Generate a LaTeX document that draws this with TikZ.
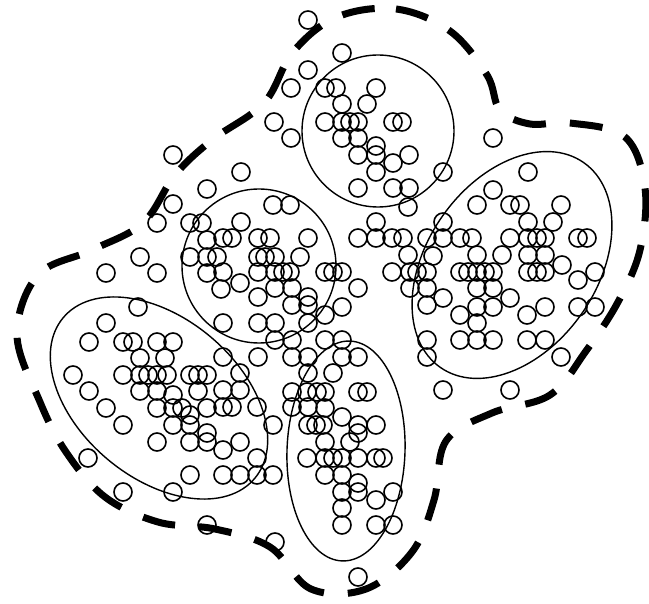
\documentclass[tikz,border=0pt]{standalone}
\begin{document}
\begin{tikzpicture}[x=1pt,y=-1pt,
  dot/.style={line width=1.6pt},
  blob/.style={line width=1.4pt},
  hull/.style={line width=7pt,dash pattern=on 33pt off 24pt}]
\useasboundingbox (0,0) rectangle (649,604);
% dashed outline
\draw[hull] plot[smooth cycle,tension=0.6] coordinates {
(337,17) (396,9) (450,31) (487,75) (500,110) (530,124) (570,123) (625,137) (645,188) (640,250) (618,302) (586,351) (550,395) (492,413) (446,441) (434,500) (412,552) (366,589) (311,589) (270,547) (215,529) (158,522) (105,497) (66,452) (40,402) (17,335) (38,275) (92,250) (143,223) (175,175) (212,140) (264,103) (293,52)};
% clusters
\draw[blob] (378,131) circle[radius=76pt];
\draw[blob] (259,266) circle[radius=77pt];
\draw[blob] (512,265) ellipse[x radius=125pt,y radius=85pt,rotate=55];
\draw[blob] (159,398) ellipse[x radius=125pt,y radius=80pt,rotate=-40];
\draw[blob] (346,451) ellipse[x radius=110pt,y radius=59pt,rotate=88];
% points
\foreach \x/\y in {
308/20,342/53,308/70,291/88,325/88,336/88,376/88,342/104,367/104,274/122,325/122,342/122,350/122,358/122,393/122,402/122,
291/138,342/138,358/138,376/146,358/155,376/155,409/155,393/163,376/172,241/172,358/188,393/188,409/188,443/172,493/138,528/172,493/190,
173/155,207/189,173/204,408/207,
157/223,190/223,202/223,207/240,223/238,232/238,140/257,190/257,207/257,217/257,106/273,157/273,207/273,221/289,138/307,106/323,
89/342,123/342,133/342,157/342,173/342,140/358,165/358,73/375,123/375,140/375,148/375,157/375,167/375,190/375,198/375,207/375,
89/391,140/391,157/391,173/395,198/391,106/408,157/408,173/408,182/408,190/415,207/408,223/407,232/407,123/425,173/425,190/425,
207/433,157/442,190/442,207/442,223/450,88/458,190/475,223/475,123/492,173/492,207/525,
273/205,290/205,241/222,376/222,258/238,270/238,308/238,358/238,376/238,392/238,403/238,427/238,258/257,265/257,275/257,300/257,
408/255,433/256,223/272,258/272,275/272,283/272,290/272,325/272,333/272,342/272,392/272,410/272,417/272,427/272,240/283,258/297,
275/288,292/288,308/297,358/288,410/288,427/288,292/305,308/305,325/315,342/307,427/305,223/323,258/323,275/323,308/323,275/340,
292/340,325/340,342/340,427/340,223/357,258/357,292/357,308/357,342/357,358/357,427/357,240/373,308/373,333/373,223/390,240/390,
292/392,307/392,317/392,325/392,358/392,367/392,443/390,
477/205,510/205,520/205,561/205,443/222,528/222,553/222,443/238,460/238,472/238,510/238,528/238,537/238,545/238,578/238,587/238,
477/255,502/255,528/255,545/255,562/265,460/272,468/272,477/272,485/272,493/272,528/272,537/272,545/272,578/280,595/272,477/288,
493/288,443/298,477/307,493/307,510/298,460/315,527/315,545/307,578/307,595/307,477/323,460/340,477/340,493/340,527/340,545/340,
561/357,510/390,
257/407,292/407,308/407,325/408,273/425,308/425,316/425,323/425,342/417,358/425,376/425,358/433,325/442,350/442,307/458,325/458,
333/458,342/458,358/458,376/458,383/458,325/475,342/475,358/483,342/492,358/492,376/500,393/492,342/508,342/525,376/525,393/525,
358/577,275/542,240/442,257/458,240/475,257/475,273/475}
  \draw[dot] (\x,\y) circle[radius=9pt];
\end{tikzpicture}
\end{document}
